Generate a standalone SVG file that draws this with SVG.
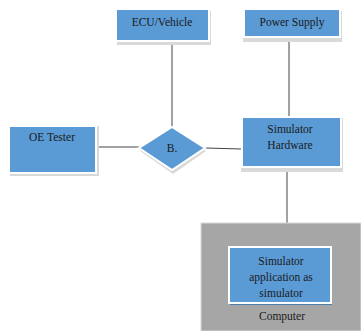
<svg xmlns="http://www.w3.org/2000/svg" width="361" height="331" viewBox="0 0 361 331">
<defs>
<style>
.box{fill:#5b9bd5;stroke:#ffffff;stroke-width:2}
.sh{fill:#d9d9d9}
.t{font-family:"Liberation Serif","Times New Roman",serif;font-size:11.5px;fill:#1a1a1a;text-anchor:middle}
.ln{stroke:#444;stroke-width:1;fill:none}
</style>
</defs>
<rect width="361" height="331" fill="#ffffff"/>
<g id="connectors">
<line class="ln" x1="172" y1="41" x2="172" y2="127"/>
<line class="ln" x1="289" y1="37" x2="289" y2="117"/>
<line class="ln" x1="96" y1="147" x2="139" y2="147"/>
<line class="ln" x1="205" y1="148" x2="242" y2="149"/>
<line class="ln" x1="287" y1="167" x2="287" y2="224"/>
</g>
<g id="ecu">
<rect class="sh" x="117" y="11" width="94" height="34"/>
<rect class="box" x="116" y="9" width="93" height="32"/>
<text class="t" x="162" y="26">ECU/Vehicle</text>
</g>
<g id="power">
<rect class="sh" x="243" y="11" width="99" height="31"/>
<rect class="box" x="244" y="9" width="96" height="28"/>
<text class="t" x="292" y="26">Power Supply</text>
</g>
<g id="oetester">
<rect class="sh" x="10" y="126" width="89" height="50"/>
<rect class="box" x="9" y="126" width="87" height="47"/>
<text class="t" x="52" y="141">OE Tester</text>
</g>
<g id="diamond">
<polygon points="173,129 206,151 173,174 140,151" fill="#d9d9d9"/>
<polygon class="box" points="172,127 205,148 172,170 139,148"/>
<text class="t" x="172" y="152">B.</text>
</g>
<g id="simhw">
<rect class="sh" x="241" y="118" width="102" height="54"/>
<rect class="box" x="242" y="117" width="99" height="50"/>
<text class="t" x="290" y="133">Simulator</text>
<text class="t" x="290" y="149">Hardware</text>
</g>
<g id="computer">
<rect x="201" y="223" width="160" height="108" fill="#a6a6a6" stroke="#d9d9d9" stroke-width="1"/>
<rect x="230" y="248" width="102" height="57" fill="#4a7fb0"/>
<rect class="box" x="229" y="247" width="102" height="56"/>
<text class="t" x="281" y="265">Simulator</text>
<text class="t" x="281" y="281">application as</text>
<text class="t" x="281" y="297">simulator</text>
<text class="t" x="282" y="320">Computer</text>
</g>
</svg>
